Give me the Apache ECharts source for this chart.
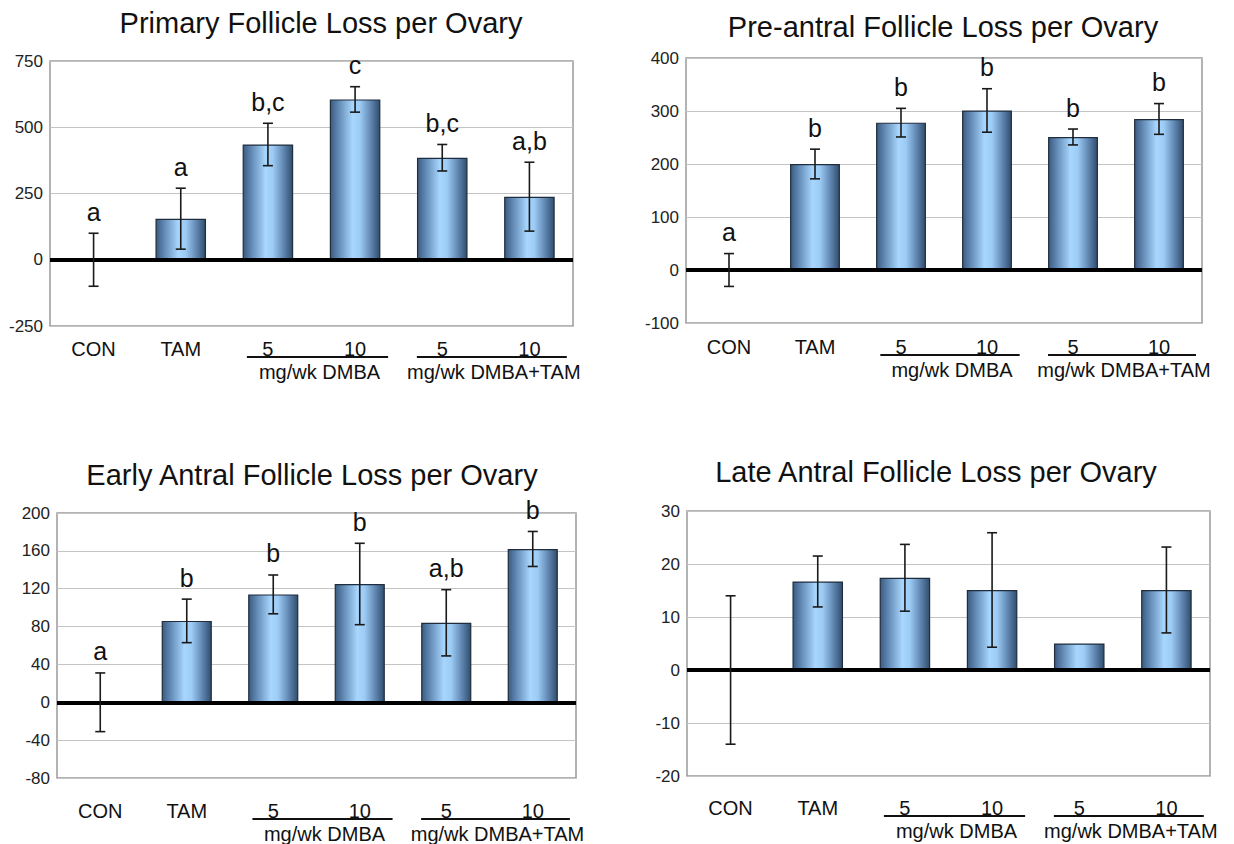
<!DOCTYPE html>
<html>
<head>
<meta charset="utf-8">
<script src="https://cdn.jsdelivr.net/npm/echarts@6/dist/echarts.min.js"></script>
<style>
html,body{margin:0;padding:0;background:#fff;}
#main{width:1234px;height:844px;}
</style>
</head>
<body>
<div id="main"></div>
<script>
// ---------- DATA ----------
const categories = ['CON', 'TAM', '5', '10', '5', '10'];
const groupLabels = ['mg/wk DMBA', 'mg/wk DMBA+TAM'];

const titles = [
  'Primary Follicle Loss per Ovary',
  'Pre-antral Follicle Loss per Ovary',
  'Early Antral Follicle Loss per Ovary',
  'Late Antral Follicle Loss per Ovary'
];

const primaryMean = [0, 155, 435, 605, 385, 238];
const primaryErr = [100, 115, 80, 48, 50, 130];
const primaryLetters = ['a', 'a', 'b,c', 'c', 'b,c', 'a,b'];

const preantralMean = [0, 200, 278, 301, 251, 285];
const preantralErr = [31, 28, 27, 41, 15, 29];
const preantralLetters = ['a', 'b', 'b', 'b', 'b', 'b'];

const earlyMean = [0, 86, 114, 125, 84, 162];
const earlyErr = [31, 23, 20.5, 43, 35, 18.5];
const earlyLetters = ['a', 'b', 'b', 'b', 'a,b', 'b'];

const lateMean = [0, 16.7, 17.4, 15.1, 5.0, 15.1];
const lateErr = [14, 4.8, 6.3, 10.8, 0, 8.1];
const lateLetters = ['', '', '', '', '', ''];

const yMin = [-250, -100, -80, -20];
const yMax = [750, 400, 200, 30];
const yInterval = [250, 100, 40, 10];

// ---------- LAYOUT ----------
const FONT = '"Liberation Sans", Arial, Helvetica, sans-serif';
const grids = [
  {left: 50, top: 61, width: 523, height: 265},
  {left: 686, top: 58, width: 516, height: 265},
  {left: 57, top: 513, width: 519, height: 265},
  {left: 687, top: 511, width: 523, height: 265}
];
const labelMargins = [13, 14, 23, 22];
const titlePos = [
  {x: 316, y: 3},
  {x: 938, y: 7},
  {x: 307, y: 455},
  {x: 931, y: 452}
];

const panels = [
  {mean: primaryMean, err: primaryErr, letters: primaryLetters},
  {mean: preantralMean, err: preantralErr, letters: preantralLetters},
  {mean: earlyMean, err: earlyErr, letters: earlyLetters},
  {mean: lateMean, err: lateErr, letters: lateLetters}
];

const barGradient = new echarts.graphic.LinearGradient(0, 0, 1, 0, [
  {offset: 0, color: '#3c5b80'},
  {offset: 0.15, color: '#5d85b0'},
  {offset: 0.45, color: '#a8d6fd'},
  {offset: 0.6, color: '#9ccbf5'},
  {offset: 0.85, color: '#577ca6'},
  {offset: 1, color: '#314d6c'}
]);

const option = {
  backgroundColor: '#ffffff',
  animation: false,
  title: titles.map((t, i) => ({
    text: t,
    left: titlePos[i].x,
    top: titlePos[i].y,
    textAlign: 'center',
    textStyle: {fontSize: 29, fontWeight: 'normal', color: '#111', fontFamily: FONT}
  })),
  grid: grids.map(g => Object.assign({show: true, borderColor: '#9a9a9a', borderWidth: 1.5, backgroundColor: '#fff'}, g)),
  xAxis: grids.map((g, i) => ({
    type: 'category',
    gridIndex: i,
    data: categories,
    position: 'bottom',
    axisLine: {show: false},
    axisTick: {show: false},
    splitLine: {show: false},
    axisLabel: {show: true, margin: labelMargins[i], fontSize: 20, color: '#111', fontFamily: FONT, interval: 0}
  })),
  yAxis: grids.map((g, i) => ({
    type: 'value',
    gridIndex: i,
    min: yMin[i],
    max: yMax[i],
    interval: yInterval[i],
    axisLine: {show: false},
    axisTick: {show: false},
    axisLabel: {fontSize: 17, color: '#222', fontFamily: FONT, margin: 7},
    splitLine: {show: true, lineStyle: {color: '#c4c4c4', width: 1}}
  })),
  series: []
};

panels.forEach((p, i) => {
  option.series.push({
    type: 'bar',
    xAxisIndex: i,
    yAxisIndex: i,
    data: p.mean,
    barWidth: '58%',
    itemStyle: {color: barGradient, borderColor: '#1f2d3d', borderWidth: 1.2},
    z: 2,
    markLine: {
      silent: true,
      symbol: 'none',
      label: {show: false},
      lineStyle: {color: '#000', width: 4, type: 'solid'},
      data: [{yAxis: 0}],
      z: 3
    }
  });
  option.series.push({
    type: 'custom',
    xAxisIndex: i,
    yAxisIndex: i,
    z: 5,
    data: p.mean.map((m, k) => [k, m, p.err[k]]),
    renderItem: function (params, api) {
      const k = api.value(0), m = api.value(1), e = api.value(2);
      const hi = api.coord([k, m + e]);
      const lo = api.coord([k, m - e]);
      const children = [];
      const st = {stroke: '#1a1a1a', lineWidth: 1.6};
      if (e > 0) {
        children.push({type: 'line', shape: {x1: hi[0], y1: hi[1], x2: lo[0], y2: lo[1]}, style: st});
        children.push({type: 'line', shape: {x1: hi[0] - 5, y1: hi[1], x2: hi[0] + 5, y2: hi[1]}, style: st});
        children.push({type: 'line', shape: {x1: lo[0] - 5, y1: lo[1], x2: lo[0] + 5, y2: lo[1]}, style: st});
      }
      const letter = panels[i].letters[params.dataIndex];
      if (letter) {
        children.push({
          type: 'text',
          style: {
            text: letter, x: hi[0], y: hi[1] - 9,
            align: 'center', verticalAlign: 'bottom',
            fill: '#111', fontSize: 25, fontFamily: FONT
          }
        });
      }
      return {type: 'group', children: children};
    }
  });
});

const chart = echarts.init(document.getElementById('main'), null, {renderer: 'svg'});
chart.setOption(option);

// group underlines and group labels
const graphics = [];
grids.forEach((g, i) => {
  const bottom = g.top + g.height;
  const labelCenter = bottom + labelMargins[i] + 10;
  const step = g.width / categories.length;
  [[2, 3, 0.81], [4, 5, 0.86]].forEach((grp, gi) => {
    const xa = chart.convertToPixel({xAxisIndex: i}, grp[0]);
    const xb = chart.convertToPixel({xAxisIndex: i}, grp[1]);
    const mid = (xa + xb) / 2;
    const lc = mid + 6;
    const hw = grp[2] * step;
    graphics.push({
      type: 'line',
      shape: {x1: lc - hw, y1: labelCenter + 8, x2: lc + hw, y2: labelCenter + 8},
      style: {stroke: '#111', lineWidth: 2}
    });
    graphics.push({
      type: 'text',
      style: {
        text: groupLabels[gi], x: mid + 8, y: labelCenter + 23,
        align: 'center', verticalAlign: 'middle',
        fill: '#111', fontSize: 20, fontFamily: FONT
      }
    });
  });
});
chart.setOption({graphic: graphics});
</script>
</body>
</html>
